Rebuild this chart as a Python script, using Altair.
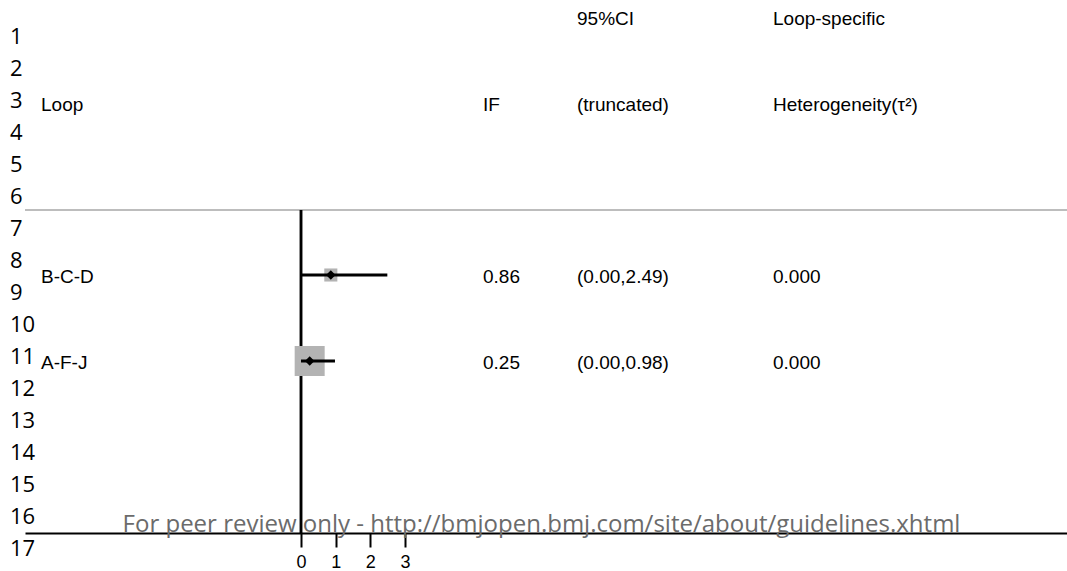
import altair as alt
import pandas as pd

# ---- data ----
loops = ["B-C-D", "A-F-J"]
row_index = [3, 4]
if_values = [0.86, 0.25]
ci_low = [0.00, 0.00]
ci_high = [2.49, 0.98]
ci_text = ["(0.00,2.49)", "(0.00,0.98)"]
if_text = ["0.86", "0.25"]
tau2_text = ["0.000", "0.000"]
weights = [0.19, 1.0]

header_row1 = ["", "", "95%CI", "Loop-specific"]
header_row2 = ["Loop", "IF", "(truncated)", "Heterogeneity(τ²)"]
line_numbers = list(range(1, 18))
axis_ticks = [0, 1, 2, 3]
watermark = "For peer review only - http://bmjopen.bmj.com/site/about/guidelines.xhtml"

df = pd.DataFrame({
    "loop": loops, "row": row_index, "IF": if_values, "lo": ci_low, "hi": ci_high,
    "ci": ci_text, "iftxt": if_text, "tau2": tau2_text, "w": weights,
})
hdr1 = pd.DataFrame({"t": header_row1, "row": [0] * 4, "col": [0, 1, 2, 3]})
hdr2 = pd.DataFrame({"t": header_row2, "row": [1] * 4, "col": [0, 1, 2, 3]})
nums = pd.DataFrame({"n": line_numbers})

# ---- layout ----
W, H = 1042, 533
FONT = "Liberation Sans"
x_scale = alt.Scale(domain=[-7.961, 22.094], nice=False, zero=False)
y_scale = alt.Scale(domain=[-0.19767, 6.0], nice=False, zero=False, reverse=True)
n_scale = alt.Scale(domain=[-0.15625, 16.5], nice=False, zero=False, reverse=True)
x_axis = alt.Axis(values=axis_ticks, title=None, grid=False, domain=True,
                  domainColor="black", domainWidth=2, tickColor="black", tickWidth=2,
                  tickSize=14, labelFont=FONT, labelFontSize=18, labelColor="black",
                  labelPadding=6, labelAngle=0)
COLX = [16, 458, 552, 748]

base = alt.Chart(df)

sep = alt.Chart(df).mark_rule(color="#bdbdbd", strokeWidth=2).encode(
    y=alt.YDatum(2.244, scale=y_scale, axis=None))

zero = alt.Chart(df).mark_rule(color="black", strokeWidth=2.5).encode(
    x=alt.XDatum(0, scale=x_scale, axis=x_axis),
    y=alt.YDatum(2.244, scale=y_scale, axis=None),
    y2=alt.Y2Datum(6.0))

boxes = base.mark_point(shape="square", filled=True, color="#b3b3b3", opacity=1).encode(
    x=alt.X("IF:Q", scale=x_scale, axis=x_axis),
    y=alt.Y("row:Q", scale=y_scale, axis=None),
    size=alt.Size("w:Q", scale=alt.Scale(domain=[0, 1], range=[0, 900]), legend=None))

ci = base.mark_rule(color="black", strokeWidth=3).encode(
    x=alt.X("lo:Q", scale=x_scale, axis=x_axis), x2="hi:Q",
    y=alt.Y("row:Q", scale=y_scale, axis=None))

dia = base.mark_point(shape="diamond", filled=True, color="black", opacity=1, size=90).encode(
    x=alt.X("IF:Q", scale=x_scale, axis=x_axis),
    y=alt.Y("row:Q", scale=y_scale, axis=None))

def txt(field, col, data=df):
    return alt.Chart(data).mark_text(align="left", baseline="middle", font=FONT,
                                     fontSize=19, color="black", dy=2).encode(
        x=alt.value(COLX[col]), y=alt.Y("row:Q", scale=y_scale, axis=None),
        text=f"{field}:N")

row_texts = [txt("loop", 0), txt("iftxt", 1), txt("ci", 2), txt("tau2", 3)]
hdr_texts = []
for c in range(4):
    hdr_texts.append(txt("t", c, hdr1.iloc[[c]]))
    hdr_texts.append(txt("t", c, hdr2.iloc[[c]]))

wm = alt.Chart(df.iloc[[0]]).transform_calculate(t=f"'{watermark}'").mark_text(
    align="center", baseline="alphabetic", font="Open Sans", fontSize=24,
    color="#6b6b6b").encode(x=alt.value(516.5), y=alt.value(532), text="t:N")

main = alt.layer(sep, zero, boxes, ci, dia, *row_texts, *hdr_texts, wm)

numbers = alt.Chart(nums).mark_text(align="left", baseline="middle", font="Open Sans",
                                    fontSize=22, color="black").encode(
    x=alt.value(-15), y=alt.Y("n:Q", scale=n_scale, axis=None), text="n:N")

chart = alt.layer(main, numbers).resolve_scale(y="independent").properties(
    width=W, height=H,
    background="white",
    autosize=alt.AutoSizeParams(type="none"),
    padding={"left": 25, "top": 0, "right": 0, "bottom": 38},
).configure_view(strokeWidth=0, stroke=None)

chart.save("out.html", embed_options={"renderer": "svg", "actions": False})
